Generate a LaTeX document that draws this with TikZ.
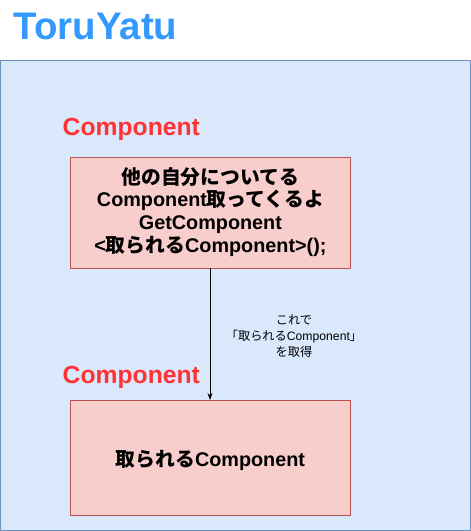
\documentclass[tikz,border=0pt]{standalone}
\usetikzlibrary{arrows.meta}
\usepackage{fontspec}
\setmainfont{Liberation Sans}
\newfontfamily\jpfont{Noto Sans CJK JP}
\newcommand{\jp}[1]{{\jpfont #1}}
\definecolor{outerfill}{HTML}{DAE8FC}
\definecolor{outerline}{HTML}{6C8EBF}
\definecolor{boxfill}{HTML}{F8CECC}
\definecolor{boxline}{HTML}{B85450}
\definecolor{titleblue}{HTML}{3399FF}
\definecolor{labelred}{HTML}{FF3333}
\begin{document}
\begin{tikzpicture}[x=1pt,y=-1pt,
  pinkbox/.style={draw=boxline, fill=boxfill, line width=0.8pt, inner sep=0pt, anchor=north west},
  boxtext/.style={font=\bfseries\fontsize{19.8}{22.7}\selectfont, align=center},
  complabel/.style={font=\bfseries\fontsize{24.7}{28}\selectfont, text=labelred, anchor=west, inner sep=0pt}]
\useasboundingbox (0,0) rectangle (471,531);
\fill[white] (0,0) rectangle (471,531);
\draw[draw=outerline, fill=outerfill, line width=0.8pt] (0.5,60.5) rectangle (470,530);
\node[font=\bfseries\fontsize{38.4}{40}\selectfont, text=titleblue, anchor=west, inner sep=0pt] (title) at (13.5,26) {ToruYatu};
\node[complabel] (lab1) at (62.5,129) {Component};
\node[pinkbox, minimum width=280pt, minimum height=111pt] (box1) at (70,157) {};
\node[boxtext] (t1) at ([yshift=1pt]box1.center) {\jp{他の自分についてる}\\Component\jp{取ってくるよ}\\GetComponent\\<\jp{取られる}Component>();};
\node[complabel] (lab2) at (62.5,377) {Component};
\node[pinkbox, minimum width=280pt, minimum height=115pt] (box2) at (70,400) {};
\node[boxtext] (t2) at ([yshift=-2.5pt]box2.center) {\jp{取られる}Component};
\coordinate (astart) at (210,268);
\draw[-{Stealth[length=7pt,width=5pt]}, line width=0.7pt] (astart) -- (astart |- box2.north);
\node[font=\fontsize{12.2}{16}\selectfont, align=center] (note) at (294,336) {\jp{これで}\\\jp{「取られる}Component\jp{」}\\\jp{を取得}};
\end{tikzpicture}
\end{document}
